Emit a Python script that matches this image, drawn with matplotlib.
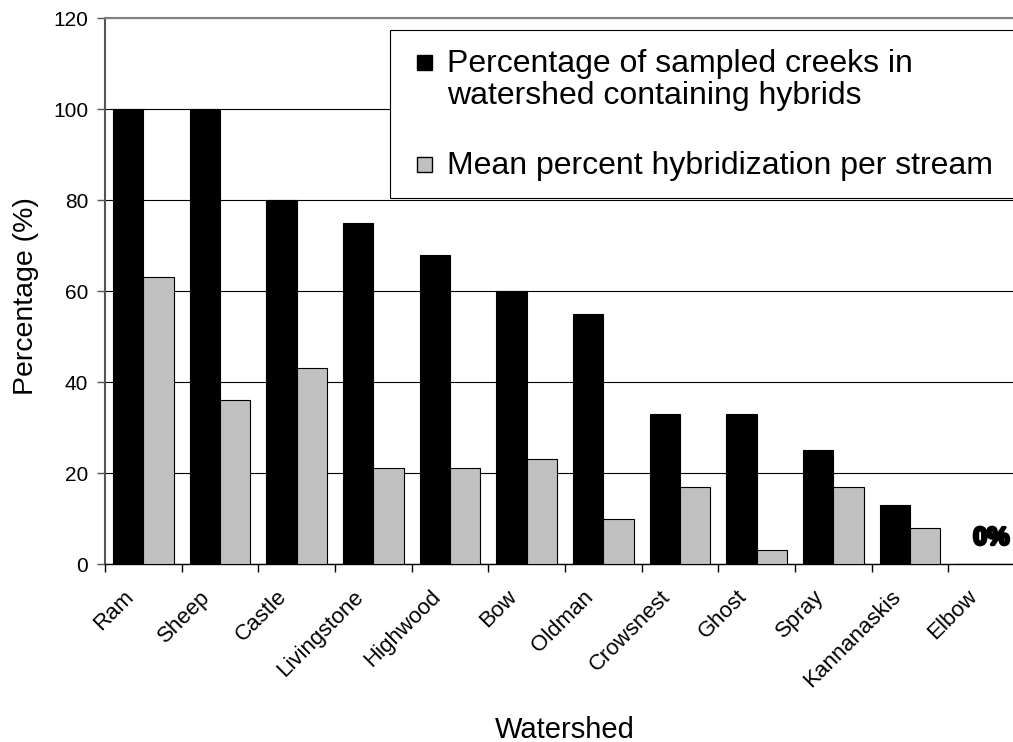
import numpy as np
import matplotlib
matplotlib.use("Agg")
import matplotlib.pyplot as plt
import matplotlib.patheffects as pe
from matplotlib.patches import Rectangle
from matplotlib.transforms import ScaledTranslation
from matplotlib.ticker import FixedLocator, NullFormatter

plt.rcParams['font.family'] = ['Liberation Sans', 'DejaVu Sans']

watersheds = ['Ram', 'Sheep', 'Castle', 'Livingstone', 'Highwood', 'Bow',
              'Oldman', 'Crowsnest', 'Ghost', 'Spray', 'Kannanaskis', 'Elbow']
pct_creeks = [100, 100, 80, 75, 68, 60, 55, 33, 33, 25, 13, 0]
mean_hybrid = [63, 36, 43, 21, 21, 23, 10, 17, 3, 17, 8, 0]
legend_lines = [['Percentage of sampled creeks in', 'watershed containing hybrids'],
                ['Mean percent hybridization per stream']]
colors = ['black', '#c0c0c0']

W, H = 1013, 742
DPI = 100


def fx(px):
    return px / W


def fy(py):
    return 1 - py / H


fig = plt.figure(figsize=(W / DPI, H / DPI), dpi=DPI)
# plot area runs a little past the right edge of the canvas
ax = fig.add_axes([fx(105), fy(564), 920 / W, 546 / H])

x = np.arange(len(watersheds))
bw = 0.395
ax.bar(x - bw / 2, pct_creeks, bw, color=colors[0], edgecolor='black',
       linewidth=0.8, zorder=3)
ax.bar(x + bw / 2, mean_hybrid, bw, color=colors[1], edgecolor='black',
       linewidth=0.8, zorder=3)

ax.set_xlim(-0.5, len(watersheds) - 0.5)
ax.set_ylim(0, 120)
ax.set_yticks(np.arange(0, 121, 20))
ax.yaxis.grid(True, color='black', linewidth=0.8)
ax.set_axisbelow(True)

ax.set_xticks(x)
ax.set_xticklabels(watersheds, rotation=45, ha='right', rotation_mode='anchor',
                   fontsize=16)
ax.tick_params(axis='x', which='major', length=0, pad=16)
shift = ScaledTranslation(-20 / DPI, 0, fig.dpi_scale_trans)
for lab in ax.get_xticklabels():
    lab.set_transform(lab.get_transform() + shift)
ax.xaxis.set_minor_locator(FixedLocator(np.arange(-0.5, len(watersheds), 1.0)))
ax.xaxis.set_minor_formatter(NullFormatter())
ax.tick_params(axis='x', which='minor', length=6, width=1, color='black')
ax.tick_params(axis='y', labelsize=15, length=6, width=1, color='#555555', pad=6)

ax.spines['right'].set_visible(False)
ax.spines['top'].set_color('#808080')
ax.spines['top'].set_linewidth(1.5)
ax.spines['left'].set_color('#555555')
ax.spines['left'].set_linewidth(1.5)
ax.spines['bottom'].set_color('black')
ax.spines['bottom'].set_linewidth(1)

ax.set_ylabel('Percentage (%)', fontsize=20.5)
ax.yaxis.set_label_coords((33 - 105) / 920, (564 - 296) / 546)
ax.yaxis.label.set(rotation_mode='anchor', va='baseline', ha='center')
ax.set_xlabel('Watershed', fontsize=21)
ax.xaxis.set_label_coords(0.5, -(738 - 564) / 546)
ax.xaxis.label.set(va='baseline', ha='center')

ax.text(x[-1] + 0.06, 5.8, '0%', fontsize=18, fontweight='bold',
        family=['Liberation Sans Narrow', 'Liberation Sans'],
        ha='center', va='center', zorder=4,
        path_effects=[pe.withStroke(linewidth=2.2, foreground='black')])

# legend box, drawn by hand so it can run off the right edge
fig.add_artist(Rectangle((fx(390), fy(198)), fx(1040 - 390), 168 / H,
                         transform=fig.transFigure, facecolor='white',
                         edgecolor='black', linewidth=0.8, zorder=5))
rows = [[72, 104], [174]]
for c, lines, baselines in zip(colors, legend_lines, rows):
    b0 = baselines[0]
    fig.add_artist(Rectangle((fx(417), fy(b0 - 2)), 15 / W, 15 / H,
                             transform=fig.transFigure, facecolor=c,
                             edgecolor='black', linewidth=1, zorder=6))
    for txt, b in zip(lines, baselines):
        fig.text(fx(447), fy(b), txt, fontsize=23, ha='left', va='baseline',
                 zorder=6)

fig.savefig('out.png', dpi=DPI)
